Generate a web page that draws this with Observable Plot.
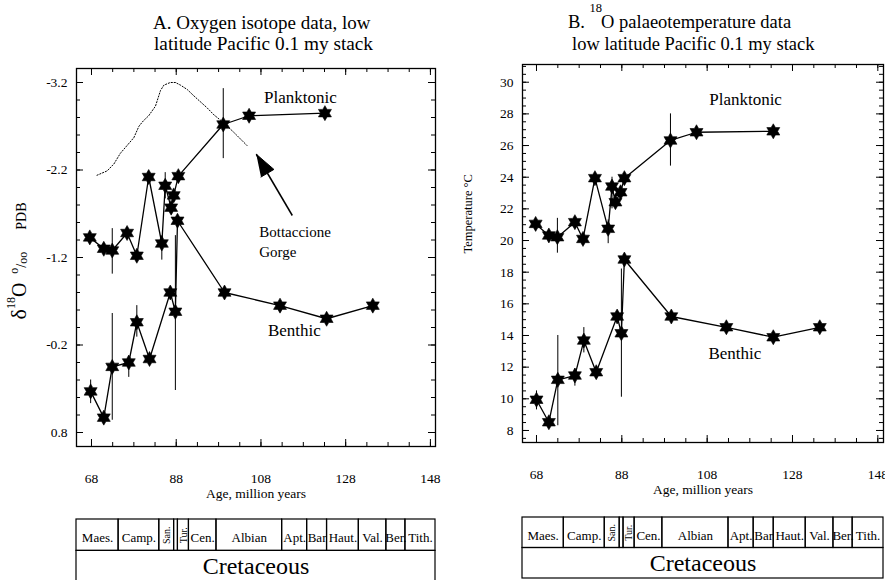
<!DOCTYPE html>
<html>
<head>
<meta charset="utf-8">
<script src="https://cdn.jsdelivr.net/npm/d3@7"></script>
<script src="https://cdn.jsdelivr.net/npm/@observablehq/plot@0.6"></script>
<style>
  html, body { margin: 0; padding: 0; background: #fff; }
  body { width: 885px; height: 580px; position: relative; overflow: hidden;
         font-family: "Liberation Serif", "Times New Roman", serif; color: #000; }
  .abs { position: absolute; white-space: nowrap; }
</style>
</head>
<body>
<div class="abs" style="left:153px;top:13px;font-size:19px;line-height:19px">A. Oxygen isotope data, low</div>
<div class="abs" style="left:154px;top:34px;font-size:19.3px;line-height:19.3px">latitude Pacific 0.1 my stack</div>
<div class="abs" style="left:568px;top:12.5px;font-size:18.5px;line-height:18.5px">B. <span style="font-size:12.5px;position:relative;top:-16px;margin-right:-1px">18</span>O palaeotemperature data</div>
<div class="abs" style="left:572px;top:34.5px;font-size:18.5px;line-height:18.5px">low latitude Pacific 0.1 my stack</div>
<div class="abs" style="left:20px;top:261px;transform:translate(-50%,-50%) rotate(-90deg);font-size:14px;line-height:22px"><span style="font-size:22px">δ</span><span style="font-size:12px;position:relative;top:-11px">18</span><span style="font-size:20px">O</span><span style="font-size:12px;position:relative;top:-8px;margin-left:9px">o</span><span style="font-size:14px">/</span><span style="font-size:12px;position:relative;top:1px">oo</span><span style="margin-left:22px">PDB</span></div>
<div id="plotA" class="abs" style="left:0;top:56px"></div>
<div id="plotB" class="abs" style="left:440px;top:52px"></div>
<div id="tableA" class="abs" style="left:0;top:516px"></div>
<div id="tableB" class="abs" style="left:440px;top:514px"></div>
<script>
// ---------- Panel A: δ18O (‰ PDB) ----------
const planktonicAgeA = [67.6, 70.9, 72.9, 76.4, 78.7, 81.5, 84.6, 85.4, 86.8, 87.4, 88.5, 99.1, 105.2, 123.1];
const planktonicD18O = [-1.43, -1.30, -1.28, -1.48, -1.22, -2.12, -1.36, -2.02, -1.77, -1.91, -2.13, -2.72, -2.82, -2.85];
const benthicAgeA = [67.8, 70.9, 72.9, 76.8, 78.7, 81.7, 86.6, 87.8, 88.3, 99.4, 112.5, 123.5, 134.4];
const benthicD18O = [0.33, 0.63, 0.05, 0.00, -0.46, -0.04, -0.80, -0.58, -1.62, -0.80, -0.65, -0.50, -0.65];

// error bars (age, range ends)
const planktonicErrAgeA = [72.9, 84.6, 85.4, 99.1];
const planktonicErrFromA = [-1.53, -1.45, -2.17, -3.13];
const planktonicErrToA = [-1.01, -1.17, -1.87, -2.33];
const benthicErrAgeA = [67.8, 72.9, 76.8, 78.7, 87.8];
const benthicErrFromA = [0.20, -0.56, -0.07, -0.65, -1.45];
const benthicErrToA = [0.47, 0.66, 0.17, -0.29, 0.32];

// Bottaccione Gorge record (dotted)
const bottaccioneAge = [69.3, 71.7, 73.3, 74.8, 76.4, 78.0, 79.2, 80.2, 81.5, 83.1, 83.5, 84.3, 85.1, 86.6, 87.8, 89.0, 90.6, 92.1, 93.7, 95.3, 96.9, 99.2, 101.6, 104.7];
const bottaccioneD18O = [-2.14, -2.19, -2.27, -2.39, -2.48, -2.57, -2.70, -2.76, -2.82, -2.93, -2.99, -3.11, -3.17, -3.20, -3.20, -3.17, -3.12, -3.05, -2.98, -2.91, -2.83, -2.74, -2.63, -2.48];

// ---------- Panel B: palaeotemperature (°C) ----------
const planktonicAgeB = [67.8, 70.9, 72.9, 77.0, 78.9, 81.7, 84.8, 85.7, 86.5, 87.7, 88.6, 99.4, 105.5, 123.5];
const planktonicTemp = [21.05, 20.32, 20.21, 21.16, 20.10, 23.94, 20.74, 23.41, 22.42, 23.05, 23.94, 26.32, 26.84, 26.90];
const benthicAgeB = [68.0, 70.9, 73.0, 77.0, 79.1, 82.0, 86.9, 87.9, 88.6, 99.6, 112.5, 123.5, 134.4];
const benthicTemp = [9.94, 8.52, 11.20, 11.47, 13.68, 11.68, 15.20, 14.14, 18.80, 15.20, 14.52, 13.89, 14.52];

const planktonicErrAgeB = [72.9, 84.8, 85.7, 99.4];
const planktonicErrFromB = [19.2, 19.8, 22.0, 24.7];
const planktonicErrToB = [21.4, 21.3, 24.0, 28.0];
const benthicErrAgeB = [68.0, 73.0, 77.0, 79.1, 87.9];
const benthicErrFromB = [9.3, 8.3, 10.8, 12.9, 10.1];
const benthicErrToB = [10.5, 14.0, 11.9, 14.5, 18.2];

// ---------- Axes ----------
const ageTickLabels = [68, 88, 108, 128, 148];
const ageMinorTicks = d3.range(68, 149, 5);
const d18OTickLabels = [-3.2, -2.2, -1.2, -0.2, 0.8];
const d18OMinorTicks = d3.range(-16, 5).map(k => +(k * 0.2).toFixed(1));
const tempTickLabels = [8, 10, 12, 14, 16, 18, 20, 22, 24, 26, 28, 30];
const tempMinorTicks = d3.range(7.5, 31.1, 0.5);

// ---------- Stratigraphic table ----------
const stageNames = ["Maes.", "Camp.", "San.", "", "Tur.", "Cen.", "Albian", "Apt.", "Bar", "Haut.", "Val.", "Ber.", "Tith."];
const stageBoundaries = [74.4, 84.0, 87.5, 88.4, 91.0, 97.5, 113.0, 118.9, 123.6, 131.1, 137.6, 142.1];
const periodName = "Cretaceous";

// ---------- Drawing ----------
const FONT = '"Liberation Serif", "Times New Roman", serif';
const H = 460, M_TOP = 12, M_BOTTOM = 70;
const rows = (xs, ys) => xs.map((age, i) => ({age, v: ys[i]}));
const bars = (xs, a, b) => xs.map((age, i) => ({age, v1: a[i], v2: b[i]}));

// six-pointed star symbol
const hexagram = {
  draw(context, size) {
    const R = Math.sqrt(size / Math.PI), ri = R / Math.sqrt(3);
    for (let k = 0; k < 12; ++k) {
      const a = (k * 30 - 90) * Math.PI / 180, r = k % 2 ? ri : R;
      const px = r * Math.cos(a), py = r * Math.sin(a);
      if (k) context.lineTo(px, py); else context.moveTo(px, py);
    }
    context.closePath();
  }
};

// inward ticks on all four sides of the frame
function frameTicks(yMajor, yMinor, fw, fh) {
  const maj = 7, min = 4;
  return [
    Plot.tickX(ageTickLabels, {x: d => d, insetTop: fh - maj}),
    Plot.tickX(ageMinorTicks, {x: d => d, insetTop: fh - min}),
    Plot.tickX(ageTickLabels, {x: d => d, insetBottom: fh - maj}),
    Plot.tickX(ageMinorTicks, {x: d => d, insetBottom: fh - min}),
    Plot.tickY(yMajor, {y: d => d, insetRight: fw - maj}),
    Plot.tickY(yMinor, {y: d => d, insetRight: fw - min}),
    Plot.tickY(yMajor, {y: d => d, insetLeft: fw - maj}),
    Plot.tickY(yMinor, {y: d => d, insetLeft: fw - min})
  ];
}

function series(data) {
  return [
    Plot.line(data, {x: "age", y: "v", stroke: "black", strokeWidth: 1.3}),
    Plot.dot(data, {x: "age", y: "v", symbol: hexagram, r: 7.5, fill: "black", stroke: "black", strokeWidth: 0.6})
  ];
}
function errorBars(data) {
  return Plot.ruleX(data, {x: "age", y1: "v1", y2: "v2", stroke: "black", strokeWidth: 1});
}

function chart({width, marginLeft, marginRight, xDomain, yDomain, yTicks, yMinor, marks}) {
  const fw = width - marginLeft - marginRight, fh = H - M_TOP - M_BOTTOM;
  return Plot.plot({
    width, height: H, marginLeft, marginRight, marginTop: M_TOP, marginBottom: M_BOTTOM,
    style: {fontFamily: FONT, fontSize: "13.5px", background: "transparent", overflow: "visible", color: "black"},
    x: {domain: xDomain, ticks: ageTickLabels, tickSize: 0, tickPadding: 26.5, tickFormat: d => String(d), label: null},
    y: {domain: yDomain, ticks: yTicks, tickSize: 0, tickPadding: 9, tickFormat: d => String(d), label: null},
    marks: [
      ...frameTicks(yTicks, yMinor, fw, fh),
      Plot.frame({stroke: "black", strokeWidth: 1.3}),
      ...marks,
      Plot.text(["Age, million years"], {text: d => d, frameAnchor: "bottom", dy: 51, fontSize: 13.5})
    ]
  });
}

function stageTable({width, marginLeft, marginRight, xDomain, rowH}) {
  const edges = [xDomain[0], ...stageBoundaries, xDomain[1]];
  const stages = stageNames.map((name, i) => ({name, x1: edges[i], x2: edges[i + 1], mid: (edges[i] + edges[i + 1]) / 2}));
  const rotated = new Set(["San.", "Tur."]);
  return Plot.plot({
    width, height: 70, marginLeft, marginRight, marginTop: 3, marginBottom: 70 - 3 - 2 * rowH,
    style: {fontFamily: FONT, background: "transparent", overflow: "visible", color: "black"},
    x: {domain: xDomain, axis: null},
    y: {domain: [0, 2], reverse: true, axis: null},
    marks: [
      Plot.rect(stages, {x1: "x1", x2: "x2", y1: 0, y2: 1, fill: "none", stroke: "black", strokeWidth: 1.2}),
      Plot.rect([periodName], {x1: xDomain[0], x2: xDomain[1], y1: 1, y2: 2, fill: "none", stroke: "black", strokeWidth: 1.2}),
      Plot.text(stages.filter(d => d.name && !rotated.has(d.name)), {x: "mid", y: 0.5, text: "name", fontSize: 13, dy: 3}),
      Plot.text(stages.filter(d => rotated.has(d.name)), {x: "mid", y: 0.5, text: "name", fontSize: 10, rotate: -90}),
      Plot.text([periodName], {x: (xDomain[0] + xDomain[1]) / 2, y: 1.5, text: d => d, fontSize: 24})
    ]
  });
}

// ----- Panel A -----
const A = {width: 440, marginLeft: 76, marginRight: 5, xDomain: [64.46, 149.2], yDomain: [0.96, -3.36]};
const arrowFrom = {age: 115.4, v: -1.68}, arrowTo = {age: 106.9, v: -2.38};
// filled arrow head, shaped in pixel space and mapped back into data units
const sx = d3.scaleLinear(A.xDomain, [A.marginLeft, A.width - A.marginRight]);
const sy = d3.scaleLinear(A.yDomain, [H - M_BOTTOM, M_TOP]);
const tip = [sx(arrowTo.age), sy(arrowTo.v)], tail = [sx(arrowFrom.age), sy(arrowFrom.v)];
const len = Math.hypot(tip[0] - tail[0], tip[1] - tail[1]);
const u = [(tip[0] - tail[0]) / len, (tip[1] - tail[1]) / len], n = [-u[1], u[0]];
const headLen = 22, headHalf = 7.5;
const base = [tip[0] - u[0] * headLen, tip[1] - u[1] * headLen];
const head = [tip, [base[0] + n[0] * headHalf, base[1] + n[1] * headHalf], [base[0] - n[0] * headHalf, base[1] - n[1] * headHalf]]
  .map(([px, py]) => ({age: sx.invert(px), v: sy.invert(py)}));

document.getElementById("plotA").append(chart({
  ...A, yTicks: d18OTickLabels, yMinor: d18OMinorTicks,
  marks: [
    Plot.line(rows(bottaccioneAge, bottaccioneD18O), {x: "age", y: "v", stroke: "black", strokeWidth: 1, strokeDasharray: "1.2,1.8"}),
    errorBars(bars(planktonicErrAgeA, planktonicErrFromA, planktonicErrToA)),
    errorBars(bars(benthicErrAgeA, benthicErrFromA, benthicErrToA)),
    ...series(rows(planktonicAgeA, planktonicD18O)),
    ...series(rows(benthicAgeA, benthicD18O)),
    Plot.link([{x1: arrowFrom.age, y1: arrowFrom.v, x2: head[0].age, y2: head[0].v}], {x1: "x1", y1: "y1", x2: "x2", y2: "y2", stroke: "black", strokeWidth: 1.5}),
    Plot.line(head, {x: "age", y: "v", fill: "black", stroke: "black", strokeWidth: 1}),
    Plot.text(["Planktonic"], {x: 117.3, y: -3.03, text: d => d, fontSize: 17}),
    Plot.text(["Benthic"], {x: 115.9, y: -0.36, text: d => d, fontSize: 17}),
    Plot.text(["Bottaccione"], {x: 107.6, y: -1.49, text: d => d, fontSize: 15, textAnchor: "start"}),
    Plot.text(["Gorge"], {x: 107.6, y: -1.26, text: d => d, fontSize: 15, textAnchor: "start"})
  ]
}));
document.getElementById("tableA").append(stageTable({...A, rowH: 31.4}));

// ----- Panel B -----
const B = {width: 445, marginLeft: 82, marginRight: 2, xDomain: [64.72, 149.33], yDomain: [7.24, 31.12]};
document.getElementById("plotB").append(chart({
  ...B, yTicks: tempTickLabels, yMinor: tempMinorTicks,
  marks: [
    errorBars(bars(planktonicErrAgeB, planktonicErrFromB, planktonicErrToB)),
    errorBars(bars(benthicErrAgeB, benthicErrFromB, benthicErrToB)),
    ...series(rows(planktonicAgeB, planktonicTemp)),
    ...series(rows(benthicAgeB, benthicTemp)),
    Plot.text(["Planktonic"], {x: 117.0, y: 28.89, text: d => d, fontSize: 17}),
    Plot.text(["Benthic"], {x: 114.5, y: 12.88, text: d => d, fontSize: 17}),
    Plot.text(["Temperature °C"], {text: d => d, frameAnchor: "left", dx: -55, rotate: -90, fontSize: 12.5})
  ]
}));
document.getElementById("tableB").append(stageTable({...B, rowH: 30.5}));
</script>
</body>
</html>
